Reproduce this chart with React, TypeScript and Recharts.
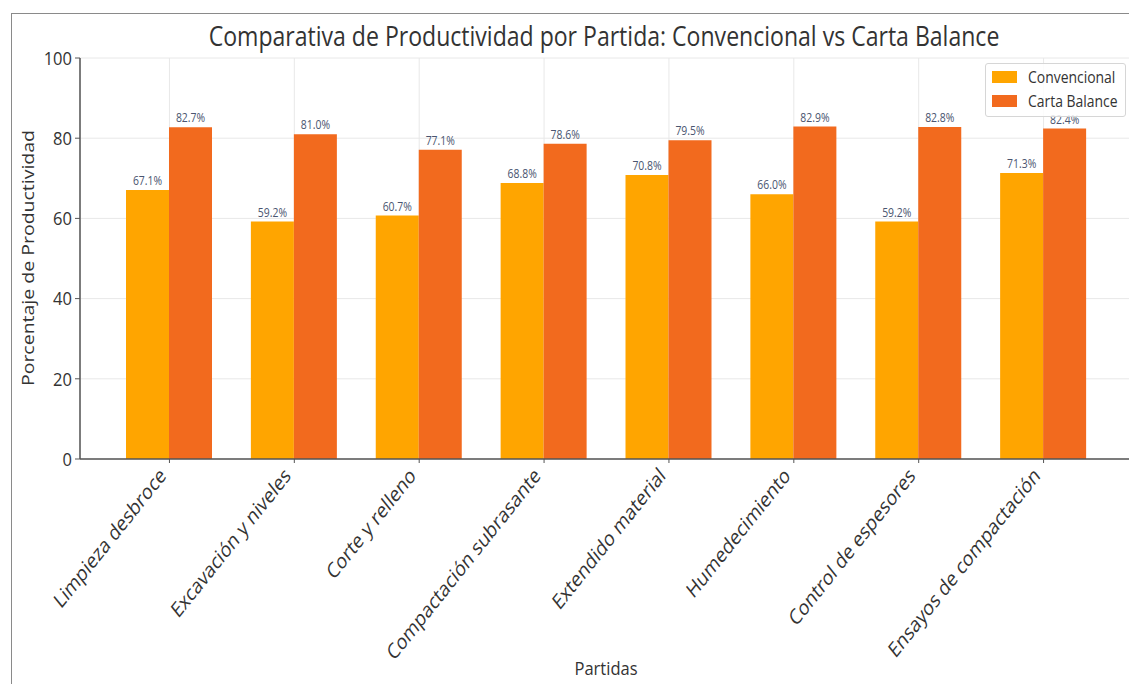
import React from 'react';
import { BarChart, Bar, XAxis, YAxis, CartesianGrid, Legend, LabelList } from 'recharts';

const categories = [
  'Limpieza desbroce',
  'Excavación y niveles',
  'Corte y relleno',
  'Compactación subrasante',
  'Extendido material',
  'Humedecimiento',
  'Control de espesores',
  'Ensayos de compactación',
];
const convencional = [67.1, 59.2, 60.7, 68.8, 70.8, 66.0, 59.2, 71.3];
const cartaBalance = [82.7, 81.0, 77.1, 78.6, 79.5, 82.9, 82.8, 82.4];
const yTicks = [0, 20, 40, 60, 80, 100];
const seriesNames = ['Convencional', 'Carta Balance'];
const seriesColors = ['#FFA500', '#F26A1E'];
const titleText = 'Comparativa de Productividad por Partida: Convencional vs Carta Balance';
const yLabelText = 'Porcentaje de Productividad';
const xLabelText = 'Partidas';

const data = categories.map((c, i) => ({ partida: c, conv: convencional[i], cb: cartaBalance[i] }));

const S = 0.87;
const SX = 0.8;
const FONT = '"Open Sans", "DejaVu Sans", sans-serif';
const TEXT = '#333333';

const YTick = (props: any) => {
  const { x, y, payload } = props;
  return (
    <g transform={`translate(${x},${y}) scale(${S},1)`}>
      <text textAnchor="end" dy="0.36em" fontSize={19} fill={TEXT} fontFamily={FONT}>
        {payload.value}
      </text>
    </g>
  );
};

const XTick = (props: any) => {
  const { x, y, payload } = props;
  return (
    <g transform={`translate(${x - 2.4},${y + 11}) scale(${SX},1) rotate(-45)`}>
      <text textAnchor="end" fontSize={21.5} fill={TEXT} fontFamily={FONT}>
        {payload.value}
      </text>
    </g>
  );
};

const ValueLabel = (props: any) => {
  const { x, y, width, value } = props;
  return (
    <g transform={`translate(${Number(x) + Number(width) / 2},${Number(y) - 5}) scale(${S},1)`}>
      <text textAnchor="middle" fontSize={12} fill="#4a5570" fontFamily={FONT}>
        {`${Number(value).toFixed(1)}%`}
      </text>
    </g>
  );
};

const LegendBox = () => (
  <div
    style={{
      position: 'relative',
      width: 141,
      height: 54,
      border: '1px solid #d6d6d6',
      borderRadius: 3,
      background: 'rgba(255,255,255,0.85)',
      boxSizing: 'border-box',
      fontFamily: FONT,
    }}
  >
    {seriesNames.map((n, i) => (
      <div key={n} style={{ position: 'absolute', left: 6, top: 6 + i * 24, height: 14, width: 130 }}>
        <div style={{ position: 'absolute', left: 0, top: 1, width: 25, height: 12, background: seriesColors[i] }} />
        <div
          style={{
            position: 'absolute',
            left: 36,
            top: -3,
            fontSize: 16,
            lineHeight: '20px',
            color: TEXT,
            whiteSpace: 'nowrap',
            transform: `scaleX(${S})`,
            transformOrigin: '0 0',
          }}
        >
          {n}
        </div>
      </div>
    ))}
  </div>
);

export default function App() {
  return (
    <div style={{ position: 'absolute', left: 0, top: 0, width: 1129, height: 684, overflow: 'hidden', background: '#fff' }}>
      <div
        style={{
          position: 'absolute',
          left: 11,
          top: 13,
          width: 1300,
          height: 900,
          border: '1.5px solid #8a8a8a',
        }}
      />
      <div style={{ position: 'absolute', left: 0, top: 0 }}>
        <BarChart
          width={1136}
          height={684}
          data={data}
          margin={{ top: 58, right: 3, bottom: 0, left: 0 }}
          barSize={43}
          barGap={0}
        >
          <CartesianGrid stroke="#e8e8e8" strokeWidth={1} />
          <XAxis
            dataKey="partida"
            interval={0}
            height={225}
            padding={{ left: 27, right: 27 }}
            tick={<XTick />}
            tickSize={4}
            tickMargin={3}
            axisLine={{ stroke: '#555', strokeWidth: 1.5 }}
            tickLine={{ stroke: '#555' }}
          />
          <YAxis
            width={80}
            domain={[0, 100]}
            ticks={yTicks}
            tick={<YTick />}
            tickSize={5}
            tickMargin={3}
            axisLine={{ stroke: '#555', strokeWidth: 1.5 }}
            tickLine={{ stroke: '#555' }}
          />
          <Legend
            layout="horizontal"
            verticalAlign="middle"
            align="center"
            content={<LegendBox />}
            wrapperStyle={{ left: 985, top: 63, width: 141, height: 54 }}
          />
          <Bar dataKey="conv" name={seriesNames[0]} fill={seriesColors[0]} isAnimationActive={false}>
            <LabelList dataKey="conv" content={<ValueLabel />} />
          </Bar>
          <Bar dataKey="cb" name={seriesNames[1]} fill={seriesColors[1]} isAnimationActive={false}>
            <LabelList dataKey="cb" content={<ValueLabel />} />
          </Bar>
        </BarChart>
      </div>
      <svg width={1129} height={684} style={{ position: 'absolute', left: 0, top: 0, pointerEvents: 'none' }}>
        <g transform={`translate(604,46) scale(${S},1)`}>
          <text textAnchor="middle" fontSize={26.5} fill={TEXT} fontFamily={FONT}>
            {titleText}
          </text>
        </g>
        <g transform={`translate(34,258) scale(${S},1) rotate(-90)`}>
          <text textAnchor="middle" fontSize={19.5} fill={TEXT} fontFamily={FONT}>
            {yLabelText}
          </text>
        </g>
        <g transform={`translate(606,675) scale(${S},1)`}>
          <text textAnchor="middle" fontSize={19} fill={TEXT} fontFamily={FONT}>
            {xLabelText}
          </text>
        </g>
      </svg>
    </div>
  );
}
